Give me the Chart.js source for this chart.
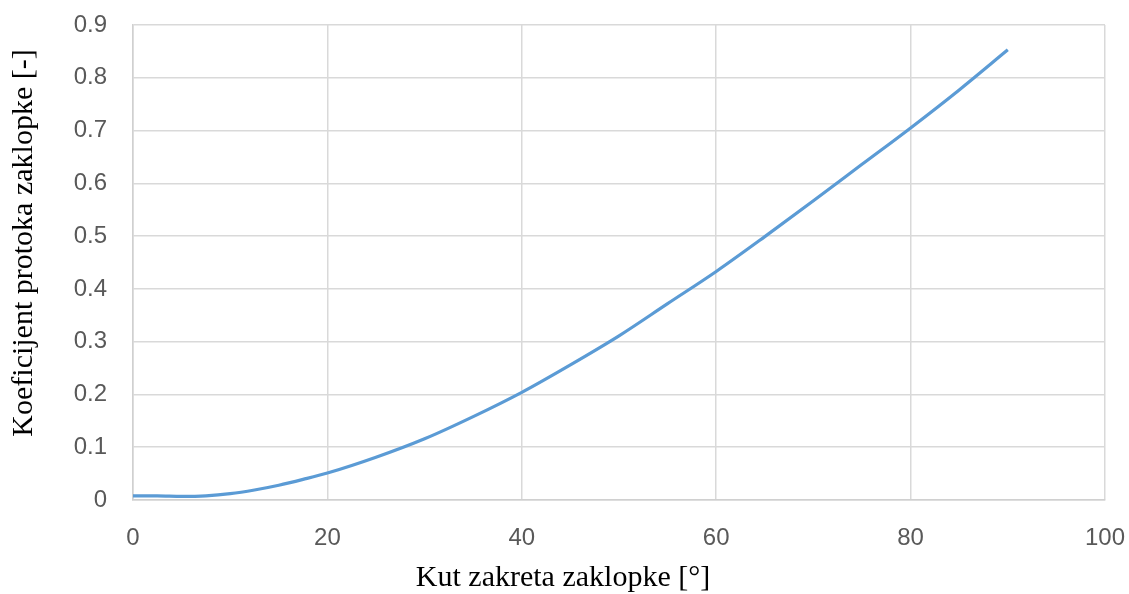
<!DOCTYPE html>
<html>
<head>
<meta charset="utf-8">
<script src="https://cdn.jsdelivr.net/npm/chart.js@4/dist/chart.umd.min.js"></script>
<style>
  html, body { margin: 0; padding: 0; background: #fff; }
  #wrap { width: 1129px; height: 594px; }
</style>
</head>
<body>
<div id="wrap"><canvas id="myChart" width="1129" height="594"></canvas></div>
<script>
// ==== Données ====
const kutovi = [0, 2.5, 5, 7.5, 10, 12.5, 15, 17.5, 20, 25, 30, 35, 40, 45, 50, 55, 60, 65, 70, 75, 80, 85, 90];
const koeficijenti = [0.008, 0.008, 0.007, 0.008, 0.012, 0.019, 0.028, 0.039, 0.051, 0.081, 0.116, 0.158, 0.204, 0.256, 0.311, 0.372, 0.433, 0.499, 0.567, 0.636, 0.705, 0.777, 0.853];

const naslovX = 'Kut zakreta zaklopke [°]';
const naslovY = 'Koeficijent protoka zaklopke [-]';

const tocke = kutovi.map((k, i) => ({x: k, y: koeficijenti[i]}));

// titres des axes (décalés comme dans l'original)
const Naslovi = {
  id: 'Naslovi',
  afterDraw(chart){
    const {ctx} = chart;
    ctx.save();
    ctx.fillStyle = '#000';
    ctx.font = '30px "Liberation Serif"';
    ctx.textAlign = 'center';
    ctx.textBaseline = 'middle';
    ctx.fillText(naslovX, 563, 578);
    ctx.translate(24, 243);
    ctx.rotate(-Math.PI / 2);
    ctx.fillText(naslovY, 0, 0);
    ctx.restore();
  }
};

const config = {
  type: 'line',
  data: {
    datasets: [{
      data: tocke,
      borderColor: '#5b9bd5',
      borderWidth: 3.2,
      pointRadius: 0,
      fill: false,
      cubicInterpolationMode: 'monotone'
    }]
  },
  options: {
    responsive: false,
    animation: false,
    layout: { padding: { top: 25, right: 24, left: 0, bottom: 0 } },
    scales: {
      x: {
        type: 'linear',
        min: 0,
        max: 100,
        ticks: { stepSize: 20, padding: 24, color: '#595959', font: { family: '"Liberation Sans"', size: 24 } },
        grid: { color: '#d9d9d9', lineWidth: 1.5, drawTicks: false },
        border: { color: '#d0d0d0', width: 1.5 },
        afterFit(scale){
          scale.height = 94;
          scale.paddingLeft = 0;
          scale.paddingRight = 0;
        }
      },
      y: {
        min: 0,
        max: 0.9,
        ticks: {
          stepSize: 0.1,
          padding: 26,
          color: '#595959',
          font: { family: '"Liberation Sans"', size: 24 },
          callback: v => v === 0 ? '0' : v.toFixed(1)
        },
        grid: { color: '#d9d9d9', lineWidth: 1.5, drawTicks: false },
        border: { color: '#d0d0d0', width: 1.5 },
        afterFit(scale){
          scale.width = 133;
          scale.paddingTop = 0;
          scale.paddingBottom = 0;
        }
      }
    },
    plugins: {
      legend: { display: false },
      tooltip: { enabled: false }
    }
  },
  plugins: [Naslovi]
};

const myChart = new Chart(document.getElementById('myChart'), config);
</script>
</body>
</html>
